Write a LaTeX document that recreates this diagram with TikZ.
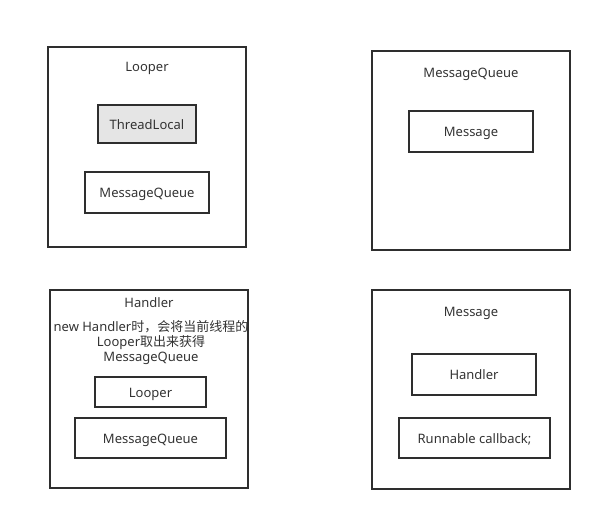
\documentclass[tikz,border=0pt]{standalone}
\usepackage{fontspec}
\setmainfont{Noto Sans}
\newfontfamily\cjk{Noto Sans CJK SC}
\begin{document}
\begin{tikzpicture}[x=1pt,y=-1pt,
  frame/.style={draw=black!82,line width=1.7pt,rectangle,inner sep=0pt},
  part/.style={draw=black!82,line width=1.7pt,rectangle,inner sep=0pt,
    font=\fontsize{13}{15}\selectfont,text=black!80,text height=12.5pt,text depth=2pt},
  caption/.style={font=\fontsize{13}{15}\selectfont,text=black!80,inner sep=0pt,
    text height=12.5pt,text depth=2pt}]
\useasboundingbox (0,0) rectangle (602,521);

% Looper
\node[frame,minimum width=198pt,minimum height=200pt] (looper) at (147,147) {};
\node[caption] (looperT) at (147,66) {Looper};
\node[part,fill=black!10,minimum width=98pt,minimum height=38pt] (tl) at (147,124) {ThreadLocal};
\node[part,minimum width=124pt,minimum height=41pt] (lmq) at (147,192.5) {MessageQueue};

% MessageQueue
\node[frame,minimum width=198pt,minimum height=199pt] (mq) at (471,150.5) {};
\node[caption] (mqT) at (471,72) {MessageQueue};
\node[part,minimum width=124pt,minimum height=41pt] (mqm) at (471,131.5) {Message};

% Handler
\node[frame,minimum width=198pt,minimum height=198pt] (handler) at (149,389) {};
\node[caption] (handlerT) at (149,302) {Handler};
\node[caption,align=center,text height=,text depth=] (note) at (151,342.5)
  {new Handler{\cjk 时，会将当前线程的}\\Looper{\cjk 取出来获得}\\MessageQueue};
\node[part,minimum width=111pt,minimum height=30pt] (hl) at (150.5,392) {Looper};
\node[part,minimum width=151pt,minimum height=40pt] (hmq) at (150.5,438) {MessageQueue};

% Message
\node[frame,minimum width=198pt,minimum height=199pt] (msg) at (471,389.5) {};
\node[caption] (msgT) at (471,311.5) {Message};
\node[part,minimum width=124pt,minimum height=41pt] (mh) at (474,374.5) {Handler};
\node[part,minimum width=151pt,minimum height=40pt] (mr) at (474.5,438) {Runnable callback;};
\end{tikzpicture}
\end{document}
